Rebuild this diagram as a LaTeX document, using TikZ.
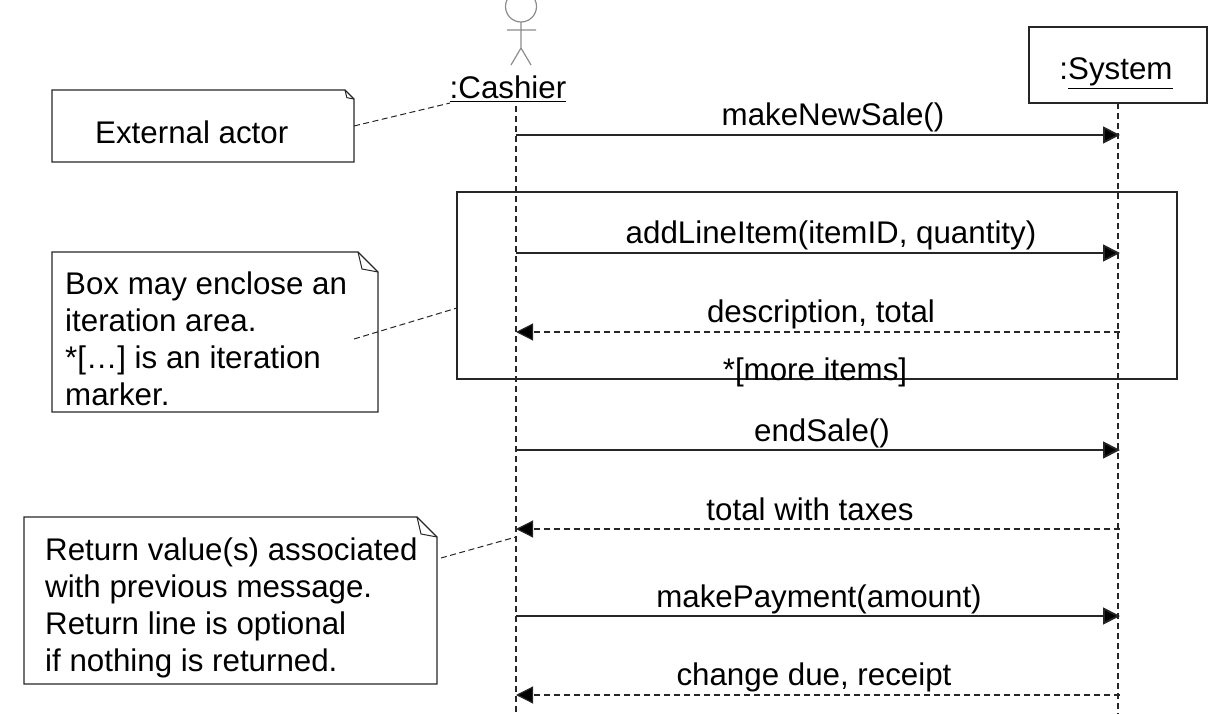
\documentclass[tikz,border=0pt]{standalone}
\usepackage{fontspec}
\setmainfont{Liberation Sans}
\usetikzlibrary{calc,arrows.meta}
\definecolor{lineC}{HTML}{262626}
\definecolor{actorC}{HTML}{8C8C8C}
\tikzset{
  lifeline/.style={draw=lineC,line width=1.3pt,dash pattern=on 6pt off 4pt},
  call/.style={draw=lineC,line width=1.8pt,-{Triangle[length=17pt,width=17pt,fill=black]}},
  reply/.style={draw=lineC,line width=1.2pt,dash pattern=on 6pt off 4pt,-{Triangle[length=17pt,width=17pt,fill=black]}},
  link/.style={draw=lineC,line width=1pt,dash pattern=on 6pt off 3.5pt},
  frame/.style={draw=lineC,line width=1.4pt,rectangle,inner sep=0pt,outer sep=0pt,anchor=north west},
  notebox/.style={rectangle,inner sep=0pt,outer sep=0pt,anchor=north west},
  msg/.style={anchor=base,inner sep=0pt,font=\fontsize{31.3}{37}\selectfont},
  notetext/.style={anchor=north west,inner sep=0pt,align=left,font=\fontsize{31.3}{37}\selectfont},
}
\newcommand{\noteline}[2]{%
  \draw [lineC,line width=1.4pt] (#1.north west) -- ($(#1.north east)+(-#2,0)$) -- ($(#1.north east)+(0,#2)$) -- (#1.south east) -- (#1.south west) -- cycle;
  \draw [lineC,line width=1pt] ($(#1.north east)+(-#2,0)$) -- ($(#1.north east)+(-#2*0.8,#2*0.85)$) -- ($(#1.north east)+(0,#2)$);
}
\begin{document}
\begin{tikzpicture}[x=1pt,y=-1pt]
  \useasboundingbox (0,0) rectangle (1220,714);
  % actor
  \begin{scope}
    \clip (480,0) rectangle (560,80);
    \draw [actorC,line width=1.2pt] (521,6.5) circle (15.5pt);
    \draw [actorC,line width=1.2pt] (521,22) -- (521,48) (507,30) -- (536,30) (511,65) -- (521,48) -- (531,65);
  \end{scope}
  % participants
  \node (cashier) [msg] at (508,99) {\underline{:Cashier}};
  \node (system) [frame,minimum width=178pt,minimum height=76pt] at (1029,27) {};
  \node (systemName) [msg] at (1116,80) {:\underline{System}};
  \coordinate (cashierTop) at (516,106);
  \coordinate (cashierEnd) at (516,714);
  \coordinate (systemEnd) at (1118,714);
  \coordinate (systemTop) at (1118,103);
  \draw [lifeline] (cashierTop) -- (cashierEnd);
  \draw [lifeline] (systemTop) -- (systemEnd);
  % iteration box
  \node (loop) [frame,minimum width=720pt,minimum height=187pt] at (457,192) {};
  % messages
  \foreach \nm/\yy in {a/135,b/253,c/332,d/450,e/529,f/616,g/695} {
    \coordinate (c\nm) at (516,\yy);
    \coordinate (s\nm) at (1120,\yy);
  }
  \draw [call] (ca) -- (sa);
  \draw [call] (cb) -- (sb);
  \draw [reply] (sc) -- (cc);
  \draw [call] (cd) -- (sd);
  \draw [reply] (se) -- (ce);
  \draw [call] (cf) -- (sf);
  \draw [reply] (sg) -- (cg);
  \node (makeNewSale) [msg] at (833,126) {makeNewSale()};
  \node (addLineItem) [msg] at (831,243) {addLineItem(itemID, quantity)};
  \node (description) [msg] at (821,322) {description, total};
  \node (moreItems) [msg] at (815,380) {*[more items]};
  \node (endSale) [msg] at (822,441) {endSale()};
  \node (totalTaxes) [msg] at (810,520) {total with taxes};
  \node (makePayment) [msg] at (819,607) {makePayment(amount)};
  \node (changeDue) [msg] at (814,685) {change due, receipt};
  % notes
  \node (noteActor) [notebox,minimum width=302pt,minimum height=72pt] at (52,90) {};
  \node (noteLoop) [notebox,minimum width=326pt,minimum height=160pt] at (52,252) {};
  \node (noteReturn) [notebox,minimum width=413pt,minimum height=167pt] at (24,517) {};
  \noteline{noteActor}{9}
  \noteline{noteLoop}{20}
  \noteline{noteReturn}{20}
  \node (noteActorText) [notetext] at (95,121) {External actor};
  \node (noteLoopText) [notetext] at (65,272) {Box may enclose an\\iteration area.\\*[…] is an iteration\\marker.};
  \node (noteReturnText) [notetext] at (45,537.5) {Return value(s) associated\\with previous message.\\Return line is optional\\if nothing is returned.};
  % note links
  \coordinate (cashierNote) at (450,103);
  \coordinate (loopNote) at (354,339);
  \coordinate (loopEnd) at (457,308);
  \coordinate (returnNote) at (441,558);
  \coordinate (returnEnd) at (516,537);
  \draw [link] (noteActor.east) -- (cashierNote);
  \draw [link] (loopNote) -- (loopEnd);
  \draw [link] (returnNote) -- (returnEnd);
\end{tikzpicture}
\end{document}
